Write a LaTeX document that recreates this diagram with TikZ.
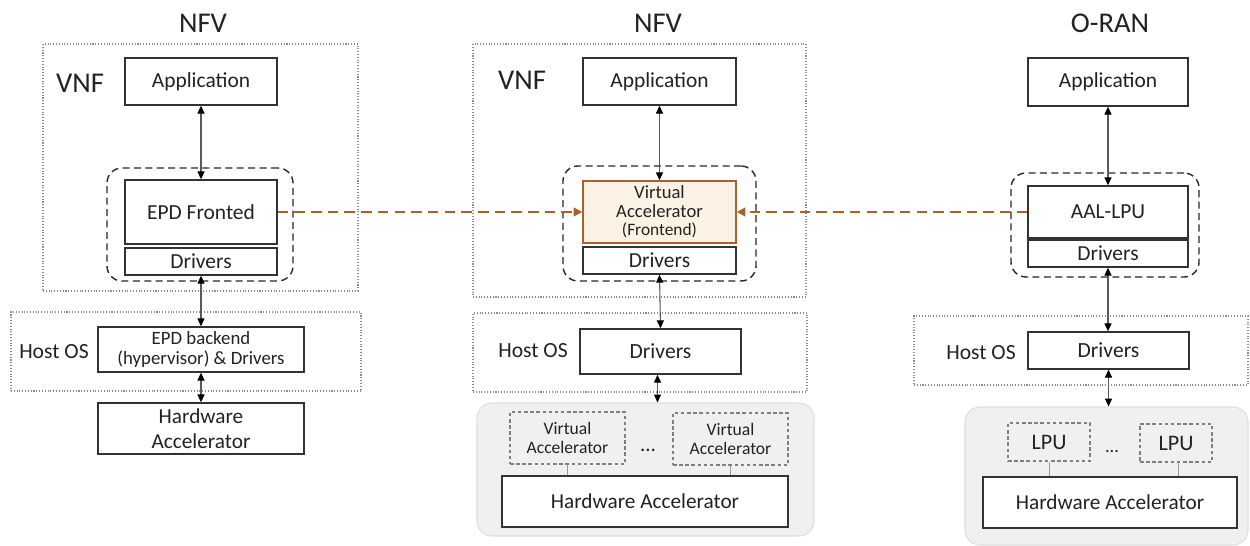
\documentclass[tikz,border=0pt]{standalone}
\usepackage{fontspec}
\setmainfont{Carlito}
\usetikzlibrary{arrows.meta}
\definecolor{ink}{HTML}{222222}
\definecolor{boxline}{HTML}{333333}
\definecolor{rust}{RGB}{172,96,44}
\definecolor{cream}{HTML}{FCF2E3}
\definecolor{hwfill}{HTML}{F0F0F0}
\definecolor{hwedge}{HTML}{DEDEDE}
\newcommand\fs[1]{\fontsize{#1}{#1}\selectfont}
% \mkbox{name}{x1}{y1}{x2}{y2}{style}{text}
\newcommand\mkbox[7]{\node[#6, minimum width={(#4-#2)*0.02cm}, minimum height={(#5-#3)*0.02cm}] (#1) at ({(#2+#4)/2},{(#3+#5)/2}) {#7};}
\tikzset{
  solidbox/.style={draw=boxline, line width=0.8pt, inner sep=0pt, align=center, text=ink, fill=white},
  frontbox/.style={draw=rust, line width=0.8pt, inner sep=0pt, align=center, text=ink, fill=cream},
  layerbox/.style={draw=black!45, densely dotted, line width=0.6pt, inner sep=0pt},
  groupbox/.style={draw=black!85, dashed, dash pattern=on 4pt off 2.5pt, line width=0.8pt, rounded corners=0.3cm, inner sep=0pt},
  hwarea/.style={draw=hwedge, fill=hwfill, line width=0.6pt, rounded corners=0.3cm, inner sep=0pt},
  slotbox/.style={draw=black!50, dashed, dash pattern=on 2pt off 1.5pt, line width=0.7pt, inner sep=0pt, align=center, text=ink, fill=hwfill},
  biarrow/.style={draw=black!65, line width=0.6pt, {Triangle[length=4.5pt,width=4pt,fill=black,color=black]}-{Triangle[length=4.5pt,width=4pt,fill=black,color=black]}},
  linkarrow/.style={draw=rust, line width=1.2pt, dash pattern=on 6pt off 3.5pt, -{Triangle[length=5pt,width=5pt]}},
  stub/.style={draw=black!40, line width=0.5pt},
  title/.style={text=ink, font=\fs{16.3}},
  sidelabel/.style={text=ink, font=\fs{12.3}}
}
\begin{document}
\begin{tikzpicture}[x=0.02cm, y=-0.02cm]
\useasboundingbox (0,0) rectangle (1250,546);

% ---------- left stack: NFV with EPD ----------
\node[title] (tL) at (203,23) {NFV};
\mkbox{vnfL}{43}{44}{358}{291}{layerbox}{}
\node[title] (vnfLlab) at (80,83) {VNF};
\mkbox{hostL}{11}{312}{361}{391}{layerbox}{}
\node[sidelabel] (hostLlab) at (54,352) {Host OS};
\mkbox{appL}{125}{58}{277}{105}{solidbox, font=\fs{12.2}}{Application}
\mkbox{grpL}{107}{168}{293}{281}{groupbox}{}
\mkbox{epdF}{125}{180}{277}{244}{solidbox, font=\fs{12.2}}{EPD Fronted}
\mkbox{drvL}{125}{248}{277}{275}{solidbox, font=\fs{12.2}}{Drivers}
\mkbox{epdB}{98}{327}{304}{372}{solidbox, font=\fs{10.7}}{EPD backend\\[1pt](hypervisor) \& Drivers}
\mkbox{hwL}{98}{403}{304}{454}{solidbox, font=\fs{12.1}}{Hardware\\[2pt]Accelerator}
\draw[biarrow] (appL.south) -- (epdF.north);
\draw[biarrow] (drvL.south) -- (epdB.north);
\draw[biarrow] (epdB.south) -- (hwL.north);

% ---------- middle stack: NFV with virtual accelerators ----------
\node[title] (tM) at (658,23) {NFV};
\mkbox{vnfM}{473}{44}{806}{297}{layerbox}{}
\node[title] (vnfMlab) at (522,80) {VNF};
\mkbox{hostM}{473}{313}{807}{392}{layerbox}{}
\node[sidelabel] (hostMlab) at (533,351) {Host OS};
\mkbox{appM}{583}{58}{736}{105}{solidbox, font=\fs{12.2}}{Application}
\mkbox{grpM}{563}{166}{756}{281}{groupbox}{}
\mkbox{vaF}{583}{181}{736}{243}{frontbox, font=\fs{10.6}}{Virtual\\Accelerator\\{\fs{9.9}(Frontend)}}
\mkbox{drvM}{583}{247}{736}{274}{solidbox, font=\fs{12.2}}{Drivers}
\mkbox{drvHM}{580}{329}{741}{374}{solidbox, font=\fs{12.3}}{Drivers}
\mkbox{hwgM}{477}{403}{814}{536}{hwarea}{}
\mkbox{vaM1}{510}{412}{625}{464}{slotbox, font=\fs{10}}{Virtual\\[1pt]Accelerator}
\mkbox{vaM2}{673}{413}{788}{465}{slotbox, font=\fs{10}}{Virtual\\[1pt]Accelerator}
\node[text=ink, font=\fs{12}] (dotsM) at (648,450) {...};
\mkbox{hwM}{502}{476}{788}{527}{solidbox, font=\fs{12.1}}{Hardware Accelerator}
\draw[stub] (vaM1.south) -- (vaM1.south |- hwM.north);
\draw[stub] (vaM2.south) -- (vaM2.south |- hwM.north);
\draw[biarrow] (appM.south) -- (vaF.north);
\draw[biarrow] (drvM.south) -- (drvHM.south |- drvHM.north);
\draw[biarrow] ([xshift=-0.06cm]drvHM.south) -- ([xshift=-0.06cm]drvHM.south |- hwgM.north);

% ---------- right stack: O-RAN ----------
\node[title] (tR) at (1110,23) {O-RAN};
\mkbox{hostR}{914}{316}{1248}{385}{layerbox}{}
\node[sidelabel] (hostRlab) at (981,353) {Host OS};
\mkbox{appR}{1028}{58}{1188}{106}{solidbox, font=\fs{12.2}}{Application}
\mkbox{grpR}{1011}{173}{1199}{277}{groupbox}{}
\mkbox{aal}{1028}{186}{1188}{238}{solidbox, font=\fs{12.2}}{AAL-LPU}
\mkbox{drvR}{1028}{240}{1188}{267}{solidbox, font=\fs{12.2}}{Drivers}
\mkbox{drvHR}{1028}{332}{1189}{369}{solidbox, font=\fs{12.3}}{Drivers}
\mkbox{hwgR}{965}{407}{1248}{545}{hwarea}{}
\mkbox{lpu1}{1008}{423}{1090}{461}{slotbox, font=\fs{12.6}}{LPU}
\mkbox{lpu2}{1140}{424}{1212}{462}{slotbox, font=\fs{12.6}}{LPU}
\node[text=ink, font=\fs{10.5}] (dotsR) at (1112,452) {...};
\mkbox{hwR}{983}{477}{1237}{528}{solidbox, font=\fs{12.1}}{Hardware Accelerator}
\draw[stub] (lpu1.south) -- (lpu1.south |- hwR.north);
\draw[stub] ([xshift=0.04cm]lpu2.south) -- ([xshift=0.04cm]lpu2.south |- hwR.north);
\draw[biarrow] (appR.south) -- (appR.south |- aal.north);
\draw[biarrow] (drvR.south) -- (drvR.south |- drvHR.north);
\draw[biarrow] (drvHR.south) -- (drvHR.south |- hwgR.north);

% ---------- links to the virtual accelerator frontend ----------
\draw[linkarrow] (epdF.east) -- (vaF.west);
\draw[linkarrow] (aal.west) -- (vaF.east);
\end{tikzpicture}
\end{document}
